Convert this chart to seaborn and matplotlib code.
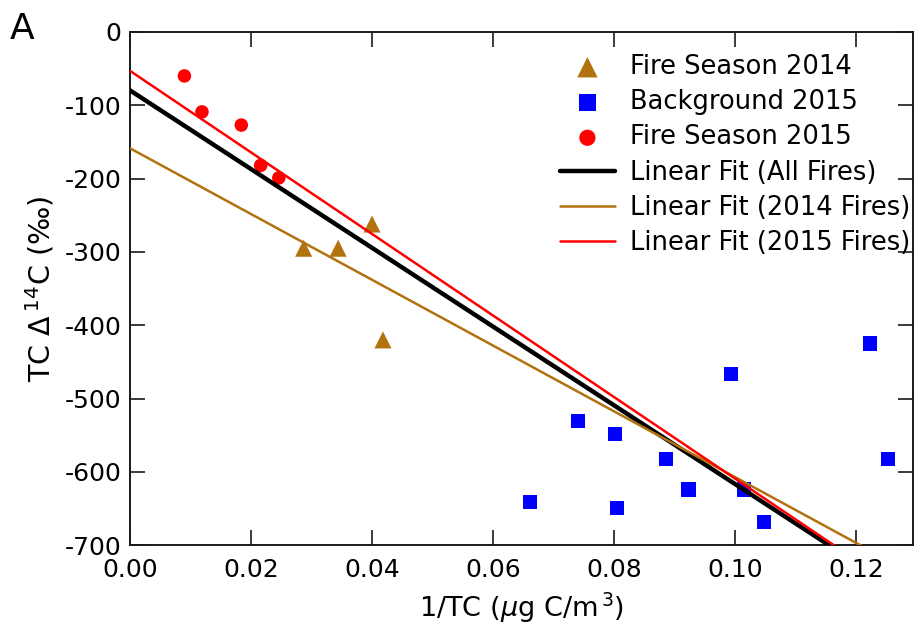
import numpy as np
import pandas as pd
import matplotlib
matplotlib.use("Agg")
import matplotlib.pyplot as plt
import seaborn as sns

# Measured points: x = 1/TC (ug C/m3), y = TC Delta14C (permil)
fire2014_x = [0.0287, 0.0344, 0.0400, 0.0418]
fire2014_y = [-295, -295, -262, -420]

bg2015_x = [0.1223, 0.0993, 0.0740, 0.0802, 0.0886, 0.1252, 0.0923, 0.1014, 0.0661, 0.0805, 0.1047]
bg2015_y = [-425, -467, -531, -548, -582, -582, -624, -624, -641, -649, -668]

fire2015_x = [0.0090, 0.0119, 0.0184, 0.0216, 0.0246]
fire2015_y = [-60, -109, -127, -182, -199]

# Linear fits: (intercept, slope)
fit_all = (-79.6, -5371.0)
fit_2014 = (-158.6, -4486.0)
fit_2015 = (-53.0, -5563.0)

x_ticks = [0.00, 0.02, 0.04, 0.06, 0.08, 0.10, 0.12]
y_ticks = [0, -100, -200, -300, -400, -500, -600, -700]

BROWN = "#B1720F"
BLUE = "#0000FF"
RED = "#FF0000"

sns.set_style("ticks", {"xtick.direction": "in", "ytick.direction": "in"})
plt.rcParams["font.family"] = ["DejaVu Sans"]
plt.rcParams["mathtext.fontset"] = "dejavusans"
for key in ["text.color", "axes.labelcolor", "xtick.color", "ytick.color"]:
    plt.rcParams[key] = "black"

fig = plt.figure(figsize=(9.15, 6.26), dpi=100)
ax = fig.add_axes([0.142, 0.129, 0.856, 0.820])

sns.scatterplot(x=fire2014_x, y=fire2014_y, marker="^", s=150, color=BROWN,
                edgecolor="none", label="Fire Season 2014", ax=ax, zorder=3)
sns.scatterplot(x=bg2015_x, y=bg2015_y, marker="s", s=105, color=BLUE,
                edgecolor="none", label="Background 2015", ax=ax, zorder=3)
sns.scatterplot(x=fire2015_x, y=fire2015_y, marker="o", s=95, color=RED,
                edgecolor="none", label="Fire Season 2015", ax=ax, zorder=3)

xfit = np.array([0.0, 0.13])
fits = [("Linear Fit (All Fires)", fit_all, "black", 3.2),
        ("Linear Fit (2014 Fires)", fit_2014, BROWN, 1.8),
        ("Linear Fit (2015 Fires)", fit_2015, RED, 1.8)]
for name, (b0, b1), col, lw in fits:
    df = pd.DataFrame({"x": xfit, "y": b0 + b1 * xfit})
    sns.lineplot(data=df, x="x", y="y", color=col, linewidth=lw,
                 label=name, ax=ax, zorder=4)

ax.set_xlim(0, 0.1294)
ax.set_ylim(-700, 0)
ax.set_xticks(x_ticks)
ax.set_xticklabels([f"{v:.2f}" for v in x_ticks])
ax.set_yticks(y_ticks)
ax.set_yticklabels([f"{v:d}" for v in y_ticks])

for sp in ax.spines.values():
    sp.set_visible(True)
    sp.set_linewidth(1.4)
    sp.set_color("#1a1a1a")
ax.tick_params(axis="both", which="major", direction="in", length=11, width=1.2,
               labelsize=18, top=True, right=True, color="#1a1a1a")
ax.tick_params(axis="x", pad=9)
ax.tick_params(axis="y", pad=6)

ax.set_xlabel(r"1/TC ($\mu$g C/m$^{\,3}$)", fontsize=19.5, labelpad=6)
ax.set_ylabel(r"TC $\Delta\,^{14}$C (‰)", fontsize=20.5, labelpad=6)

order = ["Fire Season 2014", "Background 2015", "Fire Season 2015",
         "Linear Fit (All Fires)", "Linear Fit (2014 Fires)", "Linear Fit (2015 Fires)"]
handles, labels = ax.get_legend_handles_labels()
hmap = dict(zip(labels, handles))
ax.legend([hmap[k] for k in order], order, loc="upper left",
          bbox_to_anchor=(0.549, 0.957), frameon=False, fontsize=18.5,
          handlelength=2.14, handletextpad=0.58, labelspacing=0.36,
          borderpad=0, borderaxespad=0, markerscale=1.2)

fig.text(0.011, 0.981, "A", fontsize=26, ha="left", va="top")

fig.savefig("out.png", dpi=100)
